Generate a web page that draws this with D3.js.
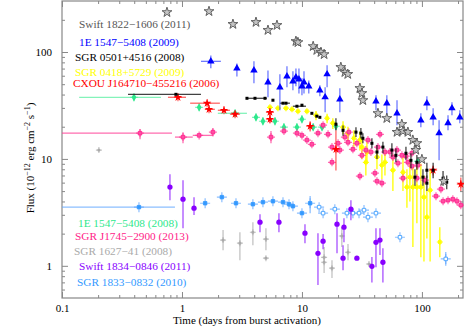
<!doctype html>
<html>
<head>
<script src="https://cdnjs.cloudflare.com/ajax/libs/d3/7.8.5/d3.min.js"></script>
<style>
  body { margin: 0; background: #fff; }
  text { font-family: "Liberation Serif", "Times New Roman", serif; }
  .frame { fill: none; stroke: #888; stroke-width: 1.2; }
  .axis path { display: none; }
  .axis line { stroke: #888; stroke-width: 1; }
  .axis text { font-size: 11px; fill: #000; font-family: "Liberation Serif", serif; }
  .legend { font-size: 11.3px; font-family: "Liberation Serif", serif; }
</style>
</head>
<body>
<svg id="chart" width="464" height="327" font-family="Liberation Serif, serif"></svg>
<script>
// rows: [days, flux, fluxLo, fluxHi, daysLo, daysHi]
var swift1822 = [[0.75,235],[1.68,240],[2.66,182],[4.14,190],[5.21,160],[6.19,178],[8.91,126],[9.26,123],
  [12.4,113],[13.3,104],[14.4,99.5],[15.3,95],[21.1,72],[22.8,64.6],[24.1,62],[30.4,45.8],[31.6,41.1],
  [32.2,35.3],[43,26.7],[51,24],[68,21.1],[62,17.8],[69.5,18.2],[76.4,17.8],[84,15],[90.8,14],[89,12.1],
  [100,9.9],[152,6.2]];

var e1547_2009 = [[1.74,81.8,70.4,93,1.44,2.11],[2.87,70.4,59,78],[3.98,67.4,51,82],[5.21,52,37.8,67],
  [6.55,46.8,28.5,62],[7.5,59.3,46.8,73.5],[8.41,53.2,43.9,66],[8.91,58,47.8,70],[9.44,55.6,41,70],
  [10,47.8,39.5,56.8],[10.4,52,41,66],[11.4,47.8,41,54],[14.1,43.9,38.5,48.9],[15.6,37.8,27.3,46.8],
  [16.2,62,46.8,75],[20.7,36.1,27.3,45.8],[41.4,34.6,28.5,39.5],[51,33.1,25.6,39.5],[62,26.7,20.7,35.3],
  [98,23,19.8,26.7],[110,33.1,28.5,38.5],[124,24.5,20.7,29.8],[139,17.4,9.7,23],[165,21.6,18.5,25.6],
  [178,29.8,25.6,33.9],[207,24.5,21.6,28.5]];

var sgr0501 = [[0.89,40.2,null,null,0.355,1.44],[3.48,36.9],[4.06,36.9,null,null,3.48,5.1],[4.92,36.9],
  [5.73,35.4],[6.95,33.2,null,null,6.55,7.94],[7.36,33.2],[9.08,31.1,null,null,8.4,10.8],[10,31.8],
  [12.1,26.7],[13.3,25.1],[14.1,24.5],[19.2,21.1,18.5,24],[22,18.5,16.5,20.5],[28.2,17.8,16,19.8],
  [31,17.4,15.5,19.5],[32.2,15.6,14,17.4],[38.3,14,12.5,15.6],[42.2,11.6,10,13.5],[47.3,12.9,11.3,14.5],
  [56.2,12.1,10.5,14],[60.7,10.8,9.3,12.5],[73.6,11.3,9.8,13],[81,9.7,8.2,11.3],[90.8,9.3,7.9,10.9],
  [87.5,6.75,5.6,8],[102,6.75,5.6,8],[110,7.84,6.6,9.2],[124,7.84,6.6,9.2],[110,5.93,5,7],
  [150,6.6,5.6,7.7],[161,6.06,5.2,7]];

var sgr0418 = [[5.41,30.4],[6.31,29.8],[7.36,29.8],[8.26,29.1],[9.26,27.9],[11,27.9],[13.1,25.6,23,28],
  [16.2,24,21.5,26.5],[18.1,21.6,19,24],[22,19.8,17,22.5],[24.2,17.4,14.5,20],[27.1,15.6,13,18.5],
  [30.4,15,12,18],[31.6,12.9,10,16],[34.8,11.6,9,14.5],[34.1,9.3,7,12],[42.2,10.4,8,13],[46.4,8.74,6.5,11],
  [49.2,9.3,7,12],[57.3,7.84,5,11],[69.5,7.5,5,10.5],[79.4,6.75,4,10],[75,5.45,3.5,8],[84.1,5.45,1.5,8.5],
  [90.8,5.45,2.5,9],[98,5.45,1.2,9],[104,4.39,1.1,7],[117,5.1,1.1,8],[110,2.85,1.8,5],[141,1.67,1.2,2.3]];

var cxou1647 = [[0.926,37.7,null,null,0.764,1.08],[1.62,33.2,null,null,1.17,2.07],[1.68,29.1,null,null,1.55,1.88],
  [2.24,28.5,null,null,1.99,2.51],[2.77,26.2,null,null,2.51,3.05],[5.41,27.3,25,30],[5.41,23.5,21.5,25.5],
  [11.7,20.2,18,22.5],[19.2,12.3,7.8,18.5],[124,7.84,7,8.7],[211,5.8,5,6.7]];

var e1547_2008 = [[0.398,37.7,null,null,0.139,0.668],[1.39,30.4],[2.77,26.7,null,null,1.99,3.48],[4.14,24.5],
  [4.73,22.5],[5.96,22.5],[7.08,19.8],[9.08,19.8],[10,23.5],[12.4,19.8],[14.7,19.8],[19.2,20.2],[92.6,9.5]];

var sgr1745 = [[0.447,17.4,15.3,19,0.1,0.826],[1.02,16,14,17.8,0.874,1.23],[1.39,16.6,null,null,1.23,1.81],
  [1.81,17.8,16.3,19.4],[5.52,16,14,18.2],[7.08,18.2],[9.08,17.4],[10,16.6],[11,15],[12.1,13.7],[13.6,17.4],
  [15,20.7],[16.5,17],[17.8,12.9],[17.8,9.3],[20,14],[20.7,12.1],[22.8,16],[24.2,14.3],[24.6,17.8],[26.6,12.3],
  [28.7,14],[30.4,6.9],[31.6,10.8],[34.1,12.1],[35.5,15],[37.6,11.6],[43,12.9],[44.7,17],[40.6,7.35],
  [42.2,6.19],[46.4,5.93],[49.2,11.6],[54.1,11.6],[57.3,10.4],[61.9,12.1],[63.1,9.12],[68.1,10.8],[69.5,6.6],
  [73.6,10.6],[76.4,9.3],[82.5,11.3],[82.5,8.55],[90.8,6.6],[92.6,8.73],[106,6.32],[131,4.48],[144,5.21],
  [150,4.02],[165,4.11],[181,4.2],[196,4.02],[211,3.69]];

var sgr1627 = [[0.203,12.1],[2.2,1.74,1.4,2.16],[3.04,1.63,1.13,2.06],[3.9,2.06,1.56,2.56],[5.01,1.78,1.4,2.25],
  [5.01,1.18],[15.3,1.2,0.855,1.5],[15.3,1.08],[17.8,0.95,0.77,1.13],[21.5,1.9,1.5,2.3],[24.2,1.34,1.13,1.6],
  [36.2,1.04]];

var swift1834 = [[0.794,5.45,4.11,7.19],[1.02,4.2,2.25,6.32],[1.26,3.46,2.98,4.39],[4.47,2.56,2.06,3.04],
  [6.43,2.56,2.06,3.11],[10.6,2.02,1.63,2.45],[13.6,1.31,0.66,2.02],[15,1.7,1.43,1.98],[19.6,2.45,1.31,3.11],
  [22,1.18,0.91,1.56],[22.4,2.3,1.66,2.79],[25.6,3.39,2.67,4.11],[28.7,1.18],[38.3,0.99,0.7,1.21],
  [41.4,1.66,0.97,2.25],[44.7,1.74,1.26,2.25],[47.3,1.08,0.7,1.46]];

var sgr1833 = [[0.438,3.54,null,null,0.1,0.874],[1.56,3.85],[2.15,4.39],[2.82,3.85],[3.9,3.77],[4.73,3.94],
  [5.73,4.02],[6.95,3.94],[7.8,3.77],[8.41,3.61],[10,3.11],[11.7,3.85,3.1,4.5],[13.9,3.54],[15,3.11],
  [18.8,3.39],[23.7,3.11],[26.6,3.11],[29.9,3.11],[32.9,3.32],[35.5,2.85],[41.4,3.11],[65.6,1.85],
  [158,1.16,1.0,1.35]];

var topLabels = ["Swift 1822\u22121606 (2011)", "1E 1547\u22125408 (2009)", "SGR 0501+4516 (2008)",
  "SGR 0418+5729 (2009)", "CXOU J164710\u2212455216 (2006)"];
var bottomLabels = ["1E 1547\u22125408 (2008)", "SGR J1745\u22122900 (2013)", "SGR 1627\u221241 (2008)",
  "Swift 1834\u22120846 (2011)", "SGR 1833\u22120832 (2010)"];
var xMajor = [0.1, 1, 10, 100];
var yMajor = [1, 10, 100];

var svg = d3.select("#chart");
var pl = 62, pr = 463, pt = 1, pb = 298;

var x = d3.scaleLog().domain([0.1, 220]).range([pl, pr]);
var y = d3.scaleLog().domain([0.5, 300]).range([pb, pt]);

function minors(lo, hi) {
  var out = [];
  for (var p = -2; p <= 3; p++)
    for (var m = 2; m <= 9; m++) {
      var v = m * Math.pow(10, p);
      if (v > lo * 1.001 && v < hi * 0.999) out.push(+v.toPrecision(3));
    }
  return out;
}

// axes, ticks inward on all four sides
svg.append("g").attr("class", "axis").attr("transform", "translate(0," + pb + ")")
  .call(d3.axisBottom(x).tickValues(xMajor).tickSizeInner(-6).tickSizeOuter(0).tickPadding(6)
    .tickFormat(d3.format("~g")));
svg.append("g").attr("class", "axis").attr("transform", "translate(0," + pb + ")")
  .call(d3.axisBottom(x).tickValues(minors(0.1, 220)).tickSizeInner(-3).tickSizeOuter(0).tickFormat(""));
svg.append("g").attr("class", "axis").attr("transform", "translate(0," + pt + ")")
  .call(d3.axisTop(x).tickValues(xMajor).tickSizeInner(-6).tickSizeOuter(0).tickFormat(""));
svg.append("g").attr("class", "axis").attr("transform", "translate(0," + pt + ")")
  .call(d3.axisTop(x).tickValues(minors(0.1, 220)).tickSizeInner(-3).tickSizeOuter(0).tickFormat(""));

svg.append("g").attr("class", "axis").attr("transform", "translate(" + pl + ",0)")
  .call(d3.axisLeft(y).tickValues(yMajor).tickSizeInner(-6).tickSizeOuter(0).tickPadding(10)
    .tickFormat(d3.format("~g")));
svg.append("g").attr("class", "axis").attr("transform", "translate(" + pl + ",0)")
  .call(d3.axisLeft(y).tickValues(minors(0.5, 300)).tickSizeInner(-3).tickSizeOuter(0).tickFormat(""));
svg.append("g").attr("class", "axis").attr("transform", "translate(" + pr + ",0)")
  .call(d3.axisRight(y).tickValues(yMajor).tickSizeInner(-6).tickSizeOuter(0).tickFormat(""));
svg.append("g").attr("class", "axis").attr("transform", "translate(" + pr + ",0)")
  .call(d3.axisRight(y).tickValues(minors(0.5, 300)).tickSizeInner(-3).tickSizeOuter(0).tickFormat(""));

svg.append("rect").attr("class", "frame")
  .attr("x", pl).attr("y", pt).attr("width", pr - pl).attr("height", pb - pt);

// axis titles
svg.append("text").attr("x", 247).attr("y", 324).attr("text-anchor", "middle")
  .style("font-size", "11px").text("Time (days from burst activation)");

var yl = svg.append("text").attr("transform", "translate(34,158) rotate(-90)")
  .attr("text-anchor", "middle").style("font-size", "11px");
yl.append("tspan").text("Flux (10");
yl.append("tspan").attr("dy", -4).style("font-size", "8px").text("\u221212");
yl.append("tspan").attr("dy", 4).text(" erg cm");
yl.append("tspan").attr("dy", -4).style("font-size", "8px").text("\u22122");
yl.append("tspan").attr("dy", 4).text(" s");
yl.append("tspan").attr("dy", -4).style("font-size", "8px").text("\u22121");
yl.append("tspan").attr("dy", 4).text(")");

var plot = svg.append("g");

function drawSeries(data, o) {
  var g = plot.append("g");
  g.selectAll(null).data(data.filter(d => d[2] != null)).join("line")
    .attr("x1", d => x(d[0])).attr("x2", d => x(d[0]))
    .attr("y1", d => y(d[2])).attr("y2", d => y(d[3]))
    .attr("stroke", o.bar).attr("stroke-width", o.bw || 1.3).attr("opacity", o.op || 0.75);
  g.selectAll(null).data(data.filter(d => d[4] != null)).join("line")
    .attr("x1", d => x(d[4])).attr("x2", d => x(d[5]))
    .attr("y1", d => y(d[1])).attr("y2", d => y(d[1]))
    .attr("stroke", o.bar).attr("stroke-width", o.bw || 1.3).attr("opacity", o.op || 0.75);
  if (o.cross) {
    g.selectAll(null).data(data).join("path")
      .attr("d", d => {
        var cx = x(d[0]), cy = y(d[1]), c = o.cross;
        return "M" + (cx - c) + "," + cy + "H" + (cx + c) + "M" + cx + "," + (cy - c) + "V" + (cy + c);
      })
      .attr("stroke", o.bar).attr("stroke-width", 1.2).attr("opacity", o.op || 0.75);
  }
  g.selectAll(null).data(data).join("path")
    .attr("transform", d => "translate(" + x(d[0]) + "," + y(d[1]) + ")")
    .attr("d", d => d3.symbol(o.type, o.size)())
    .attr("fill", d => (o.openAfter && d[0] > o.openAfter) ? "#fff" : o.fill)
    .attr("stroke", o.stroke || "none").attr("stroke-width", o.sw || 0.8);
}

drawSeries(sgr1833, { type: d3.symbolSquare, size: 12, fill: "#3399ff", bar: "#66aaff", cross: 5,
  stroke: "#3399ff", openAfter: 12 });
drawSeries(sgr1627, { type: d3.symbolCircle, size: 8, fill: "#aaaaaa", bar: "#b0b0b0", cross: 3 });
drawSeries(swift1834, { type: d3.symbolCircle, size: 22, fill: "#8800ff", bar: "#9933ff", op: 0.85 });
drawSeries(e1547_2008, { type: d3.symbolDiamond, size: 20, fill: "#2de88c", bar: "#5cf0a4", cross: 4 });
drawSeries(sgr0418, { type: d3.symbolSquare, size: 14, fill: "#ffff00", bar: "#ffff00", op: 1, cross: 3 });
drawSeries(sgr1745, { type: d3.symbolSquare, size: 13, fill: "#ff4fa0", stroke: "#ff1f8f", bar: "#ff3d96", cross: 4 });
drawSeries(cxou1647, { type: d3.symbolStar, size: 22, fill: "#ff0000", bar: "#ff3333", cross: 4 });
drawSeries(sgr0501, { type: d3.symbolSquare, size: 9, fill: "#000000", bar: "#222222", op: 0.85 });
drawSeries(e1547_2009, { type: d3.symbolTriangle, size: 24, fill: "#0000ff", bar: "#3344ff", op: 0.7 });
drawSeries(swift1822, { type: d3.symbolStar, size: 30, fill: "#c4c4c4", stroke: "#555", sw: 0.9, bar: "#888" });

// legends
var topColors = ["#555555", "#0000ff", "#000000", "#ffff00", "#ff0000"];
var topX = [79, 79, 75, 75, 73];
var topY = [28, 46, 61, 76, 87];
svg.selectAll(null).data(topLabels).join("text").attr("class", "legend")
  .attr("x", (d, i) => topX[i]).attr("y", (d, i) => topY[i])
  .attr("fill", (d, i) => topColors[i]).text(d => d);

var botColors = ["#2de88c", "#ff2288", "#aaaaaa", "#8800ff", "#3399ff"];
var botX = [78, 75, 74, 79, 77];
var botY = [227, 240, 255, 270, 286];
svg.selectAll(null).data(bottomLabels).join("text").attr("class", "legend")
  .attr("x", (d, i) => botX[i]).attr("y", (d, i) => botY[i])
  .attr("fill", (d, i) => botColors[i]).text(d => d);
</script>
</body>
</html>
